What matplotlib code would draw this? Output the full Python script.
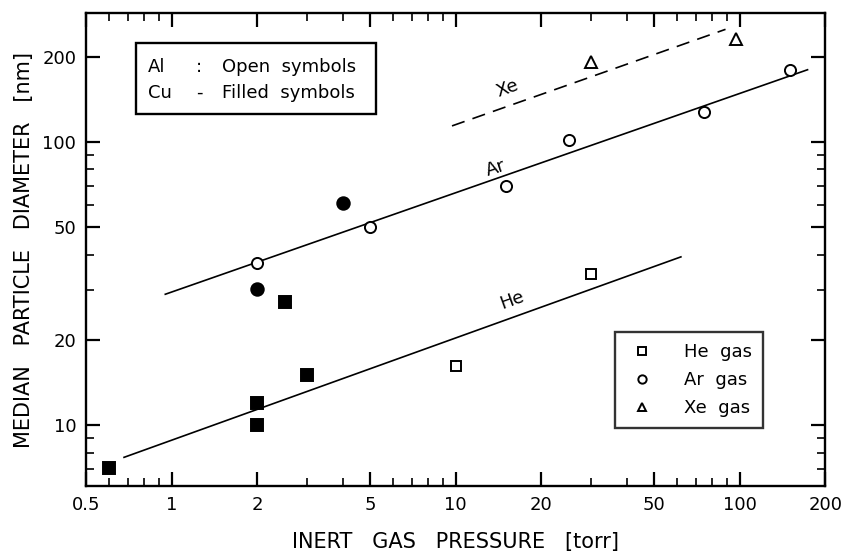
import numpy as np
import matplotlib
matplotlib.use("Agg")
import matplotlib.pyplot as plt
from matplotlib.ticker import FixedLocator, NullFormatter
from matplotlib.lines import Line2D
from matplotlib.patches import Rectangle

plt.rcParams['font.family'] = ['DejaVu Sans']

# Al (open symbols)
he_al_p = [10, 30]
he_al_d = [16.2, 34.2]
ar_al_p = [2, 5, 15, 25, 75, 150]
ar_al_d = [37.5, 50, 70, 102, 128, 180]
xe_al_p = [30, 97]
xe_al_d = [192, 231]

# Cu (filled symbols)
he_cu_p = [0.6, 2, 2, 2.5, 3]
he_cu_d = [7.05, 12, 10, 27.2, 15.1]
ar_cu_p = [2, 4]
ar_cu_d = [30.2, 60.8]

# fitted lines (end points)
ar_fit_p = [0.95, 173]
ar_fit_d = [29, 180]
xe_fit_p = [9.7, 89]
xe_fit_d = [114, 250]
he_fit_p = [0.68, 62]
he_fit_d = [7.7, 39.3]

xticks = [0.5, 1, 2, 5, 10, 20, 50, 100, 200]
xticklabels = ['0.5', '1', '2', '5', '10', '20', '50', '100', '200']
yticks = [10, 20, 50, 100, 200]
yticklabels = ['10', '20', '50', '100', '200']

fig = plt.figure(figsize=(8.44, 5.51), dpi=100)
ax = fig.add_axes([0.102, 0.118, 0.876, 0.858])
ax.set_xscale('log')
ax.set_yscale('log')
ax.set_xlim(0.5, 200)
ax.set_ylim(6.1, 285)

ax.plot(ar_fit_p, ar_fit_d, color='black', lw=1.2, zorder=2)
ax.plot(xe_fit_p, xe_fit_d, color='black', lw=1.2, ls=(0, (8, 5)), zorder=2)
ax.plot(he_fit_p, he_fit_d, color='black', lw=1.2, zorder=2)

mk = dict(ls='none', markeredgecolor='black', markeredgewidth=1.4, zorder=3)
ax.plot(he_al_p, he_al_d, marker='s', ms=7, markerfacecolor='white', **mk)
ax.plot(ar_al_p, ar_al_d, marker='o', ms=8, markerfacecolor='white', **mk)
ax.plot(xe_al_p, xe_al_d, marker='^', ms=8, markerfacecolor='white', **mk)
ax.plot(he_cu_p, he_cu_d, marker='s', ms=8, markerfacecolor='black', **mk)
ax.plot(ar_cu_p, ar_cu_d, marker='o', ms=9, markerfacecolor='black', **mk)

ax.text(15.2, 155, 'Xe', fontsize=13, rotation=20, ha='center', va='center')
ax.text(13.8, 81, 'Ar', fontsize=13, rotation=18, ha='center', va='center')
ax.text(15.8, 27.7, 'He', fontsize=13, rotation=20, ha='center', va='center')

ax.xaxis.set_major_locator(FixedLocator(xticks))
ax.set_xticklabels(xticklabels)
ax.xaxis.set_minor_locator(FixedLocator([0.6, 0.7, 0.8, 0.9, 3, 4, 6, 7, 8, 9,
                                         30, 40, 60, 70, 80, 90]))
ax.xaxis.set_minor_formatter(NullFormatter())
ax.yaxis.set_major_locator(FixedLocator(yticks))
ax.set_yticklabels(yticklabels)
ax.yaxis.set_minor_locator(FixedLocator([7, 8, 9, 30, 40, 60, 70, 80, 90]))
ax.yaxis.set_minor_formatter(NullFormatter())

ax.tick_params(which='both', direction='in', top=True, right=True, labelsize=13, pad=7)
ax.tick_params(which='major', length=10, width=1.6)
ax.tick_params(which='minor', length=5.5, width=1.2)
for s in ax.spines.values():
    s.set_linewidth(1.7)

ax.set_xlabel('INERT   GAS   PRESSURE   [torr]', fontsize=15, labelpad=13)
ax.set_ylabel('MEDIAN   PARTICLE   DIAMETER   [nm]', fontsize=15, labelpad=6)

# material box
ax.add_patch(Rectangle((0.0677, 0.786), 0.3243, 0.151, transform=ax.transAxes,
                       facecolor='white', edgecolor='black', lw=1.7, zorder=4))
rows = [('Al', ':', 'Open  symbols'), ('Cu', '-', 'Filled  symbols')]
for i, (m, sep, txt) in enumerate(rows):
    yy = 0.886 - i * 0.055
    ax.text(0.084, yy, m, transform=ax.transAxes, fontsize=13, va='center', zorder=5)
    ax.text(0.149, yy, sep, transform=ax.transAxes, fontsize=13, va='center', zorder=5)
    ax.text(0.184, yy, txt, transform=ax.transAxes, fontsize=13, va='center', zorder=5)

# gas legend
handles = [Line2D([], [], marker='s', ms=6, mfc='white', mec='black', mew=1.4, ls='none'),
           Line2D([], [], marker='o', ms=6, mfc='white', mec='black', mew=1.4, ls='none'),
           Line2D([], [], marker='^', ms=6, mfc='white', mec='black', mew=1.4, ls='none')]
leg = ax.legend(handles, ['He  gas', 'Ar  gas', 'Xe  gas'], loc='lower right',
                bbox_to_anchor=(0.915, 0.123), borderaxespad=0, fontsize=13, frameon=True,
                fancybox=False, edgecolor='black', handletextpad=1.4, labelspacing=0.55,
                borderpad=0.6, handlelength=1.8)
leg.get_frame().set_linewidth(1.7)

fig.savefig('out.png', dpi=100)
